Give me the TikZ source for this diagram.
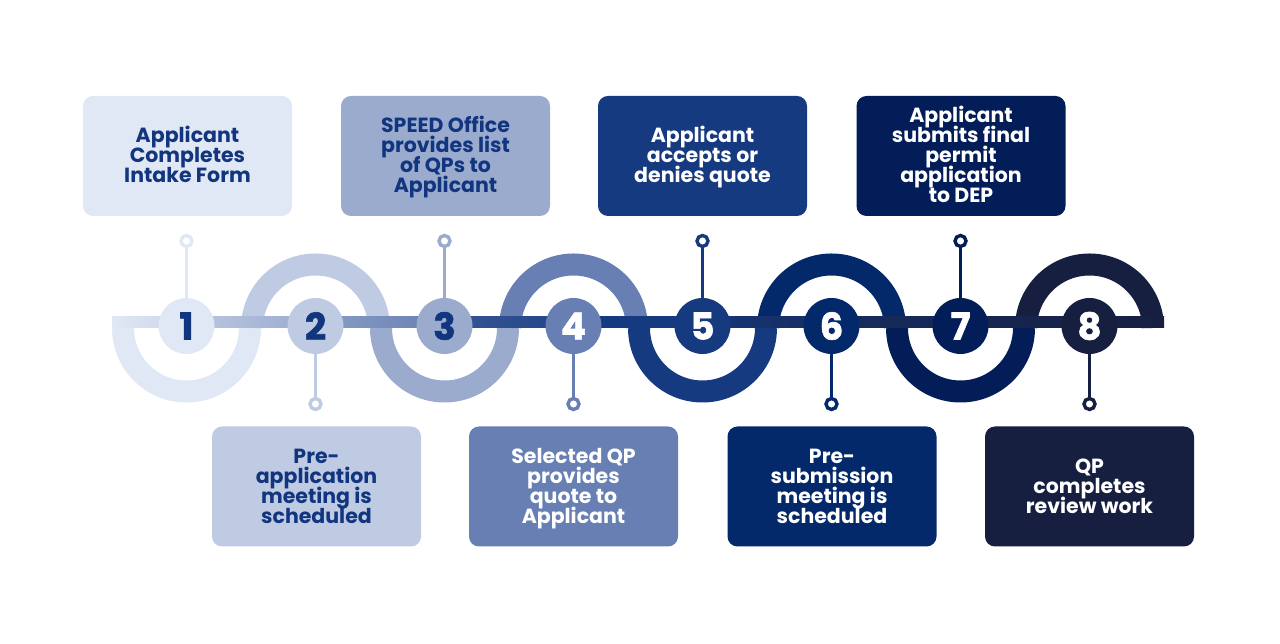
\documentclass[tikz,border=0pt]{standalone}
\usepackage{fontspec}
\setmainfont{Poppins}
\usepackage{tikz}
\lineskiplimit=-100pt
\definecolor{stepa}{HTML}{E0E8F5}
\definecolor{stepb}{HTML}{BFCBE3}
\definecolor{stepc}{HTML}{9AABCE}
\definecolor{stepd}{HTML}{677FB3}
\definecolor{stepe}{HTML}{163A80}
\definecolor{stepf}{HTML}{04296B}
\definecolor{stepg}{HTML}{021D58}
\definecolor{steph}{HTML}{161F40}
\definecolor{inka}{HTML}{12357F}
\newcommand{\linetop}{\rule{0pt}{19.5pt}}
\newcommand{\linelow}{\rule{0pt}{21pt}}
\tikzset{
	box/.style={rounded corners=10pt,minimum width=209pt,minimum height=120pt,inner sep=0pt,align=center,font=\fontsize{20.5}{20}\selectfont\bfseries,execute at end node=\rule[-6pt]{0pt}{21pt}},
	num/.style={circle,minimum size=56pt,inner sep=0pt,font=\fontsize{37}{37}\selectfont\bfseries\addfontfeature{FakeBold=1.6}},
	pin/.style={circle,fill=white,line width=3.4pt,minimum size=11pt,inner sep=0pt},
	stem/.style={line width=3.4pt},
	band/.style={line width=22pt}
}

\begin{document}
\begin{tikzpicture}[x=1pt,y=1pt,node distance=129pt]
	\useasboundingbox (0,0) rectangle (1280,644);

	\coordinate(c1) at (186.5,316);
	\coordinate(c2) at ([xshift=129pt]c1);
	\coordinate(c3) at ([xshift=129pt]c2);
	\coordinate(c4) at ([xshift=129pt]c3);
	\coordinate(c5) at ([xshift=129pt]c4);
	\coordinate(c6) at ([xshift=129pt]c5);
	\coordinate(c7) at ([xshift=129pt]c6);
	\coordinate(c8) at ([xshift=129pt]c7);

	% half rings
	\draw[band,stepa] ([xshift=-63.5pt]c1) arc[start angle=180,end angle=360,radius=63.5pt];
	\draw[band,stepb] ([xshift=-63.5pt]c2) arc[start angle=180,end angle=0,radius=63.5pt];
	\draw[band,stepc] ([xshift=-63.5pt]c3) arc[start angle=180,end angle=360,radius=63.5pt];
	\draw[band,stepd] ([xshift=-63.5pt]c4) arc[start angle=180,end angle=0,radius=63.5pt];
	\draw[band,stepe] ([xshift=-63.5pt]c5) arc[start angle=180,end angle=360,radius=63.5pt];
	\draw[band,stepf] ([xshift=-63.5pt]c6) arc[start angle=180,end angle=0,radius=63.5pt];
	\draw[band,stepg] ([xshift=-63.5pt]c7) arc[start angle=180,end angle=360,radius=63.5pt];
	\draw[band,steph] ([xshift=-63.5pt]c8) arc[start angle=180,end angle=0,radius=63.5pt];

	% rail
	\shade[left color=stepa,right color=stepb!70!stepa] (112,316) rectangle (186.5,327.5);
	\shade[left color=stepb!90!stepc,right color=stepc] (186.5,316) rectangle (315.5,327.5);
	\shade[left color=stepc!70!stepd,right color=stepd] (315.5,316) rectangle (444.5,327.5);
	\shade[left color=stepd!40!stepe,right color=stepe!85!stepd] (444.5,316) rectangle (573.5,327.5);
	\shade[left color=stepe,right color=stepe] (573.5,316) rectangle (702.5,327.5);
	\shade[left color=stepe!85!steph,right color=stepe!50!steph] (702.5,316) rectangle (831.5,327.5);
	\shade[left color=stepe!50!steph,right color=stepe!30!steph] (831.5,316) rectangle (960.5,327.5);
	\shade[left color=stepe!30!steph,right color=steph] (960.5,316) rectangle (1164,327.5);

	\node(n1)[num,fill=stepa,text=inka] at ([yshift=2pt]c1){1};
	\node(n2)[num,fill=stepb,text=inka,right of=n1]{2};
	\node(n3)[num,fill=stepc,text=inka,right of=n2]{3};
	\node(n4)[num,fill=stepd,text=white,right of=n3]{4};
	\node(n5)[num,fill=stepe,text=white,right of=n4]{5};
	\node(n6)[num,fill=stepf,text=white,right of=n5]{6};
	\node(n7)[num,fill=stepg,text=white,right of=n6]{7};
	\node(n8)[num,fill=steph,text=white,right of=n7]{8};

	\node(p1)[pin,draw=stepa,node distance=85pt,above of=n1]{};
	\node(p2)[pin,draw=stepb,node distance=78pt,below of=n2]{};
	\node(p3)[pin,draw=stepc,node distance=85pt,above of=n3]{};
	\node(p4)[pin,draw=stepd,node distance=78pt,below of=n4]{};
	\node(p5)[pin,draw=stepe,node distance=85pt,above of=n5]{};
	\node(p6)[pin,draw=stepf,node distance=78pt,below of=n6]{};
	\node(p7)[pin,draw=stepg,node distance=85pt,above of=n7]{};
	\node(p8)[pin,draw=steph,node distance=78pt,below of=n8]{};

	\draw[stem,stepa] (p1) -- (n1);
	\draw[stem,stepb] (p2) -- (n2);
	\draw[stem,stepc] (p3) -- (n3);
	\draw[stem,stepd] (p4) -- (n4);
	\draw[stem,stepe] (p5) -- (n5);
	\draw[stem,stepf] (p6) -- (n6);
	\draw[stem,stepg] (p7) -- (n7);
	\draw[stem,steph] (p8) -- (n8);

	\node(b1)[box,fill=stepa,text=inka] at (187.5,488){\linetop Applicant\\Completes\\Intake Form};
	\node(b2)[box,fill=stepb,text=inka] at (316.5,157.5){\linelow Pre-\\application\\meeting is\\scheduled};
	\node(b3)[box,fill=stepc,text=inka] at (445.5,488){\linetop SPEED Office\\provides list\\of QPs to\\Applicant};
	\node(b4)[box,fill=stepd,text=white] at (573.5,157.5){\linelow Selected QP\\provides\\quote to\\Applicant};
	\node(b5)[box,fill=stepe,text=white] at (702.5,488){\linetop Applicant\\accepts or\\denies quote};
	\node(b6)[box,fill=stepf,text=white] at (832,157.5){\linelow Pre-\\submission\\meeting is\\scheduled};
	\node(b7)[box,fill=stepg,text=white] at (961,488){\linetop Applicant\\submits final\\permit\\application\\to DEP};
	\node(b8)[box,fill=steph,text=white] at (1089.5,157.5){\linelow QP\\completes\\review work};
\end{tikzpicture}
\end{document}
